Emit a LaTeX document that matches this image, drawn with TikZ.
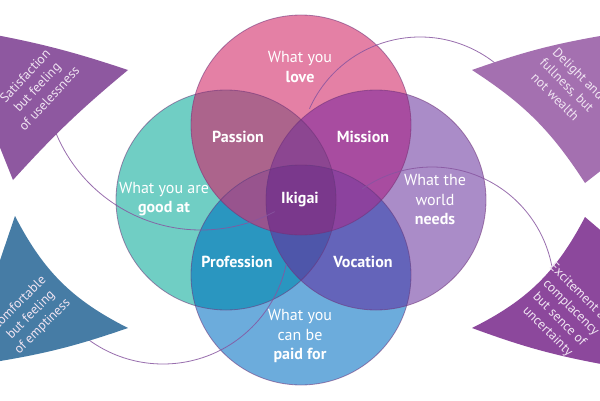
\documentclass[tikz,border=0pt]{standalone}
\usepackage{fontspec}
\setmainfont{PT Sans}
\definecolor{cP}{RGB}{228,128,165}
\definecolor{cT}{RGB}{112,206,196}
\definecolor{cL}{RGB}{170,140,200}
\definecolor{cB}{RGB}{108,172,220}
\definecolor{cPT}{RGB}{172,100,140}
\definecolor{cPL}{RGB}{168,76,160}
\definecolor{cTB}{RGB}{42,150,192}
\definecolor{cLB}{RGB}{100,100,186}
\definecolor{cPTL}{RGB}{140,70,145}
\definecolor{cPTB}{RGB}{152,84,142}
\definecolor{cPLB}{RGB}{140,66,158}
\definecolor{cTLB}{RGB}{78,86,170}
\definecolor{cAll}{RGB}{122,56,140}
\definecolor{wTL}{RGB}{142,88,160}
\definecolor{wTR}{RGB}{164,112,176}
\definecolor{wBL}{RGB}{70,124,165}
\definecolor{wBR}{RGB}{140,72,156}
\definecolor{ringc}{RGB}{110,50,120}
\definecolor{arcc}{RGB}{135,85,160}
\definecolor{wtextc}{RGB}{240,228,242}
\begin{document}
\begin{tikzpicture}[x=1pt,y=1pt,
  vtext/.style={text=white, align=center, font=\fontsize{16}{19.5}\selectfont, inner sep=0pt},
  vbold/.style={vtext, font=\fontsize{16}{19.5}\selectfont\bfseries},
  wtext/.style={text=wtextc, align=center, font=\fontsize{13.3}{16.5}\selectfont, inner sep=0pt},
  ring/.style={draw=ringc, draw opacity=0.55, line width=0.8pt},
  thinarc/.style={draw=arcc, line width=0.8pt, draw opacity=0.85}
]
\useasboundingbox (0,0) rectangle (600,400);
\clip (0,0) rectangle (600,400);
\fill[white] (0,0) rectangle (600,400);
\def\circP{(301,275) circle[radius=110pt]}
\def\circT{(226,200) circle[radius=110pt]}
\def\circL{(376,200) circle[radius=110pt]}
\def\circB{(301,125) circle[radius=110pt]}
% single circles
\fill[cT] \circT;
\fill[cL] \circL;
\fill[cB] \circB;
\fill[cP] \circP;
% pairs
\begin{scope}\clip \circP; \fill[cPT] \circT; \end{scope}
\begin{scope}\clip \circP; \fill[cPL] \circL; \end{scope}
\begin{scope}\clip \circT; \fill[cTB] \circB; \end{scope}
\begin{scope}\clip \circL; \fill[cLB] \circB; \end{scope}
% triples
\begin{scope}\clip \circP; \clip \circT; \fill[cPTL] \circL; \end{scope}
\begin{scope}\clip \circP; \clip \circT; \fill[cPTB] \circB; \end{scope}
\begin{scope}\clip \circP; \clip \circL; \fill[cPLB] \circB; \end{scope}
\begin{scope}\clip \circT; \clip \circL; \fill[cTLB] \circB; \end{scope}
% all four
\begin{scope}\clip \circP; \clip \circT; \clip \circL; \fill[cAll] \circB; \end{scope}
% outlines
\draw[ring] \circT;
\draw[ring] \circL;
\draw[ring] \circB;
\draw[ring] \circP;
% thin outer arcs
\draw[thinarc] (201,327) ++(-160:157pt) arc[start angle=-160, end angle=-62, radius=157pt];
\draw[thinarc] (420,242) ++(156:121pt) arc[start angle=156, end angle=35, radius=121pt];
\draw[thinarc] (432,111) ++(125:122pt) arc[start angle=125, end angle=0, radius=122pt];
\draw[thinarc] (163,162) ++(-135:126pt) arc[start angle=-135, end angle=-12, radius=126pt];
% wedges
\fill[wTL] (-20,368) to[bend left=4] (128,330) to[bend right=4] (13,220) -- (-5,265) -- cycle;
\fill[wTR] (612,366) to[bend right=5] (472,330) to[bend left=12] (585,217) -- (612,238) -- cycle;
\fill[wBL] (15,184) to[bend right=18] (128,72) to[bend left=5] (-12,37) -- (-5,125) -- cycle;
\fill[wBR] (472,72) to[bend right=18] (585,183) -- (612,160) -- (612,34) to[bend left=5] cycle;
% wedge texts
\node[wtext, rotate=47] (tl) at (37,313) {Satisfaction\\but feeling\\of uselessness};
\node[wtext, rotate=-45] (tr) at (567,315) {Delight and\\fullness, but\\not wealth};
\node[wtext, rotate=45] (bl) at (31,85) {Comfortable\\but feeling\\of emptiness};
\node[wtext, rotate=-45] (br) at (565,86) {Excitement and\\complacency\\but sence of\\uncertainty};
% venn texts
\node[vtext] (love) at (300,333) {What you\\\textbf{love}};
\node[vtext] (good) at (164,201) {What you are\\\textbf{good at}};
\node[vtext] (needs) at (435,200) {What the\\world\\\textbf{needs}};
\node[vtext] (paid) at (300,64) {What you\\can be\\\textbf{paid for}};
\node[vbold] (passion) at (238,263) {Passion};
\node[vbold] (mission) at (363,263) {Mission};
\node[vbold] (profession) at (237,138) {Profession};
\node[vbold] (vocation) at (363,138) {Vocation};
\node[vbold] (ikigai) at (300,200) {Ikigai};
\end{tikzpicture}
\end{document}
